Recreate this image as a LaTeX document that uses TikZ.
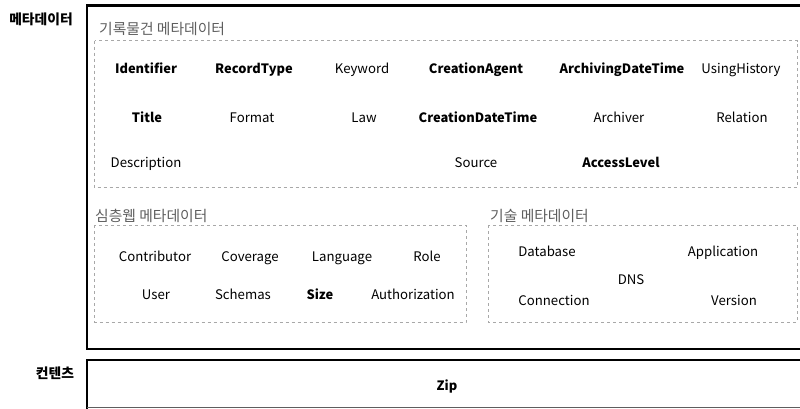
\documentclass[tikz,border=0pt]{standalone}
\usepackage{fontspec}
\setmainfont{Noto Sans CJK KR}
\definecolor{titlegray}{HTML}{5E5E5E}
\definecolor{dashgray}{HTML}{A8A8A8}
\begin{document}
\begin{tikzpicture}[x=1pt,y=-1pt,
  item/.style={font=\fontsize{13.2}{14}\selectfont, inner sep=0pt, anchor=center, text height=9.6pt, text depth=2.4pt, yshift=-1.5pt},
  bitem/.style={item, font=\fontsize{12.9}{14}\selectfont\bfseries},
  grouptitle/.style={font=\fontsize{14.8}{15}\selectfont, text=titlegray, inner sep=0pt, anchor=west},
  sidelabel/.style={font=\fontsize{13.8}{15}\selectfont\bfseries, inner sep=0pt, anchor=center},
  group/.style={draw=dashgray, dashed, line width=0.8pt},
  frame/.style={draw=black, line width=2.6pt}]
\useasboundingbox (0,0) rectangle (800,408);
\clip (0,0) rectangle (800,408);
% outer frames
\draw[frame] (87,5.5) rectangle (806,349);
\draw[frame] (87,360) rectangle (806,412);
\draw[draw=titlegray, line width=1pt] (87,407.5) -- (806,407.5);
% side labels
\node[sidelabel] (meta) at (41,19) {메타데이터};
\node[sidelabel] (contents) at (55,373) {컨텐츠};
% groups
\draw[group] (94.5,40.5) rectangle (797,187.5);
\draw[group] (94.5,225) rectangle (466,322);
\draw[group] (488,225) rectangle (797,322);
\node[grouptitle] (g1) at (99,29) {기록물건 메타데이터};
\node[grouptitle] (g2) at (95,216) {심층웹 메타데이터};
\node[grouptitle] (g3) at (490,216) {기술 메타데이터};
% records metadata
\node[bitem] (identifier) at (146,68) {Identifier};
\node[bitem] (recordtype) at (254,68) {RecordType};
\node[item] (keyword) at (362,68) {Keyword};
\node[bitem] (creationagent) at (476,68) {CreationAgent};
\node[bitem] (archivingdt) at (622,68) {ArchivingDateTime};
\node[item] (usinghistory) at (741,68) {UsingHistory};
\node[bitem] (title) at (147,117) {Title};
\node[item] (format) at (252,117) {Format};
\node[item] (law) at (364,117) {Law};
\node[bitem] (creationdt) at (478,117) {CreationDateTime};
\node[item] (archiver) at (619,117) {Archiver};
\node[item] (relation) at (742,117) {Relation};
\node[item] (description) at (146,162) {Description};
\node[item] (source) at (476,162) {Source};
\node[bitem] (accesslevel) at (621,162) {AccessLevel};
% deep web metadata
\node[item] (contributor) at (155,256) {Contributor};
\node[item] (coverage) at (250,256) {Coverage};
\node[item] (language) at (342,256) {Language};
\node[item] (role) at (427,256) {Role};
\node[item] (user) at (156,294) {User};
\node[item] (schemas) at (243,294) {Schemas};
\node[bitem] (size) at (320,294) {Size};
\node[item] (authorization) at (413,294) {Authorization};
% technical metadata
\node[item] (database) at (547,251) {Database};
\node[item] (application) at (723,251) {Application};
\node[item] (dns) at (631,279) {DNS};
\node[item] (connection) at (554,300) {Connection};
\node[item] (version) at (734,300) {Version};
% contents
\node[bitem] (zip) at (447,385) {Zip};
\end{tikzpicture}
\end{document}
